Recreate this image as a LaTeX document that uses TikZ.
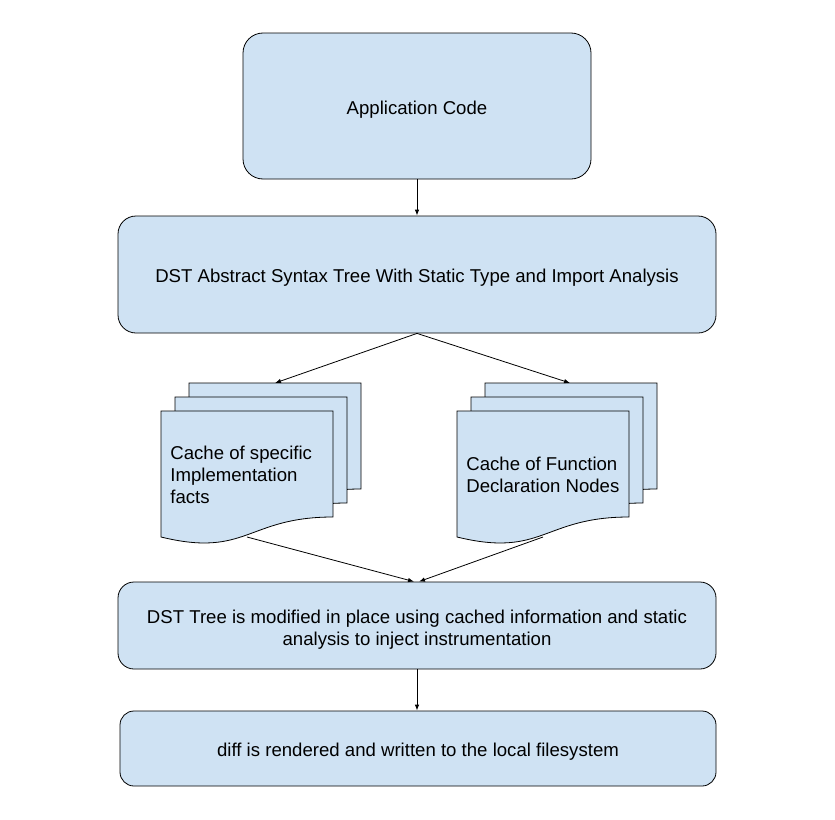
\documentclass[tikz,border=0pt]{standalone}
\usepackage{fontspec}
\setmainfont{Liberation Sans}
\usetikzlibrary{arrows.meta}

\definecolor{boxblue}{HTML}{CFE2F3}
\tikzset{
  box/.style={draw, fill=boxblue, line width=0.8pt, rounded corners=16pt,
    align=center, text height=16pt, text depth=0pt,
    font=\fontsize{18.6}{22}\selectfont},
  page/.style={draw, fill=boxblue, line width=0.8pt},
  doctext/.style={anchor=west, align=left, inner sep=0pt,
    font=\fontsize{18.6}{22}\selectfont},
  >={Latex[length=6pt,width=4.5pt]}
}

\begin{document}
\begin{tikzpicture}
      [x=1pt, y=-1pt, line width=0.8pt]
      \useasboundingbox (0,0) rectangle (835,819);
      \node[box, rounded corners=20pt, minimum width=348pt, minimum height=146pt](1) at (417,106) {Application Code};
      \node[box, rounded corners=18pt, minimum width=598pt, minimum height=117pt](2) at (417,274.5) {DST Abstract Syntax Tree With Static Type and Import Analysis};
      % stacked documents
      \foreach \x in {161,457}
        \foreach \d in {28,14,0}
          \draw[page] (\x+\d,411-\d) -- (\x+\d+172,411-\d) -- (\x+\d+172,517-\d)
            .. controls (\x+\d+86,517-\d) and (\x+\d+86,558-\d) .. (\x+\d,537-\d) -- cycle;
      \node[doctext](lt) at (170,475) {Cache of specific\\Implementation\\facts};
      \node[doctext](rt) at (466,475) {Cache of Function\\Declaration Nodes};
      \coordinate(lin) at (275,383);
      \coordinate(rin) at (570,383);
      \coordinate(lout) at (247,537);
      \coordinate(rout) at (543,537);
      \node[box, rounded corners=16pt, text height=40pt, minimum width=598pt, minimum height=87pt](3) at (417,625.5) {DST Tree is modified in place using cached information and static\\analysis to inject instrumentation};
      \node[box, rounded corners=14pt, minimum width=596pt, minimum height=75pt](4) at (418,748.5) {diff is rendered and written to the local filesystem};
      \draw[->](1) -- (2);
      \draw[->](2.south) -- (lin);
      \draw[->](2.south) -- (rin);
      \draw[->](lout) -- ([xshift=-3pt]3.north);
      \draw[->](rout) -- ([xshift=2pt]3.north);
      \draw[->](3.south) -- (3.south |- 4.north);
  \end{tikzpicture}
\end{document}
